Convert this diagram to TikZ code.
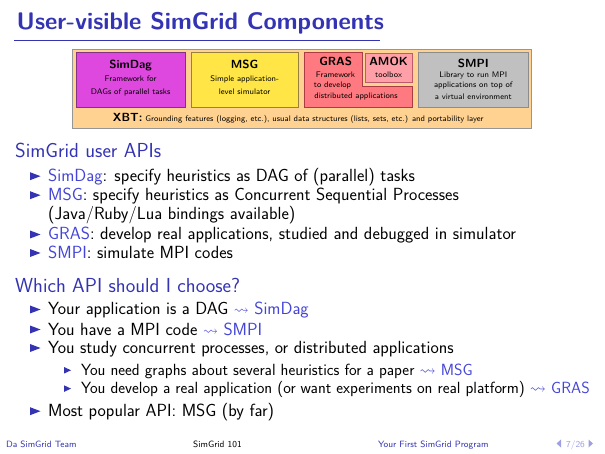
\documentclass[tikz,border=0pt]{standalone}
\usepackage{amssymb}
\usepackage{graphicx}
\renewcommand{\familydefault}{\sfdefault}
\definecolor{struct}{RGB}{51,51,179}
\definecolor{lnk}{RGB}{68,68,215}
\definecolor{xbtfill}{RGB}{255,210,145}
\definecolor{xbtdraw}{RGB}{150,150,150}
\definecolor{sdfill}{RGB}{222,72,222}
\definecolor{sddraw}{RGB}{130,50,130}
\definecolor{msgfill}{RGB}{255,230,70}
\definecolor{msgdraw}{RGB}{150,130,60}
\definecolor{grasfill}{RGB}{255,122,128}
\definecolor{grasdraw}{RGB}{170,60,70}
\definecolor{amokfill}{RGB}{255,160,168}
\definecolor{amokdraw}{RGB}{190,90,105}
\definecolor{smpifill}{RGB}{192,192,192}
\definecolor{smpidraw}{RGB}{140,140,140}
\definecolor{navcol}{RGB}{160,160,225}
\newcommand{\mainbul}[1]{\fill[struct] (30,#1-9.5) -- (40.5,#1-5.5) -- (30,#1-1.5) -- cycle;}
\newcommand{\subbul}[1]{\fill[struct] (64,#1-8) -- (71,#1-4.7) -- (64,#1-1.4) -- cycle;}
\newcommand{\myleads}{\resizebox{15pt}{!}{$\leadsto$}}
\tikzset{
  txt/.style={anchor=base west, inner sep=0pt, font=\fontsize{17.6}{20}\selectfont},
  subtxt/.style={anchor=base west, inner sep=0pt, font=\fontsize{16.2}{18}\selectfont},
  head/.style={anchor=base west, inner sep=0pt, text=struct, font=\fontsize{20.3}{22}\selectfont},
  btitle/.style={anchor=base, inner sep=0pt, font=\fontsize{11.8}{12}\selectfont\bfseries},
  btext/.style={anchor=base, inner sep=0pt, font=\fontsize{8.1}{9}\selectfont},
  foot/.style={anchor=base west, inner sep=0pt, font=\fontsize{9.1}{10}\selectfont},
  comp/.style={line width=0.6pt},
}
\begin{document}
\begin{tikzpicture}[x=1pt,y=-1pt]
\useasboundingbox (0,0) rectangle (605,454);
\fill[white] (0,0) rectangle (605,454);
% title
\node[anchor=base west, inner sep=0pt, text=struct, font=\fontsize{24}{26}\selectfont\bfseries] (title) at (16.5,30) {User-visible SimGrid Components};
\draw[struct, line width=0.8pt] (14,40) -- (380,40);
% component diagram
\filldraw[comp, fill=xbtfill, draw=xbtdraw] (72,49) rectangle (531,128);
\filldraw[comp, fill=sdfill, draw=sddraw] (76,52.7) rectangle (185.3,107.3);
\filldraw[comp, fill=msgfill, draw=msgdraw] (191,52.7) rectangle (298.3,107.3);
\filldraw[comp, fill=grasfill, draw=grasdraw] (304,52.7) -- (362.7,52.7) -- (362.7,86.7) -- (412.7,86.7) -- (412.7,107.3) -- (304,107.3) -- cycle;
\filldraw[comp, fill=amokfill, draw=amokdraw] (365.3,53.3) rectangle (412,82.3);
\filldraw[comp, fill=smpifill, draw=smpidraw] (418.7,52.7) rectangle (528,107.3);
\node[btitle] (sdT) at (130.6,68.5) {SimDag};
\node[btext] (sd1) at (130.6,81.7) {Framework for};
\node[btext] (sd2) at (130.6,94.3) {DAGs of parallel tasks};
\node[btitle] (msgT) at (244.6,68.5) {MSG};
\node[btext] (msg1) at (244.6,81.7) {Simple application-};
\node[btext] (msg2) at (244.6,94.3) {level simulator};
\node[btitle] (grasT) at (335.7,66) {GRAS};
\node[btext] (gras1) at (335.5,77.7) {Framework};
\node[btext] (gras2) at (332.5,87.7) {to develop};
\node[btext] (gras3) at (356,98.3) {distributed applications};
\node[btitle] (amokT) at (388.6,66) {AMOK};
\node[btext] (amok1) at (388.6,77.3) {toolbox};
\node[btitle] (smpiT) at (473.3,67.3) {SMPI};
\node[btext] (smpi1) at (473.3,77.3) {Library to run MPI};
\node[btext] (smpi2) at (473.3,88) {applications on top of};
\node[btext] (smpi3) at (473.3,99.3) {a virtual environment};
\node[anchor=base west, inner sep=0pt, font=\fontsize{8.1}{9}\selectfont] (xbt) at (112.7,121.7) {{\fontsize{11.8}{12}\selectfont\bfseries XBT:} Grounding features (logging, etc.), usual data structures (lists, sets, etc.) and portability layer};
% section 1
\node[head] (h1) at (15,157.3) {SimGrid user APIs};
\mainbul{181.7}
\node[txt] (i1) at (48,181.7) {\textcolor{lnk}{SimDag}: specify heuristics as DAG of (parallel) tasks};
\mainbul{200.7}
\node[txt] (i2) at (48,200.7) {\textcolor{lnk}{MSG}: specify heuristics as Concurrent Sequential Processes};
\node[txt] (i2b) at (48,220) {(Java/Ruby/Lua bindings available)};
\mainbul{240}
\node[txt] (i3) at (48,240) {\textcolor{lnk}{GRAS}: develop real applications, studied and debugged in simulator};
\mainbul{258.5}
\node[txt] (i4) at (48,258.5) {\textcolor{lnk}{SMPI}: simulate MPI codes};
% section 2
\node[head] (h2) at (15,292.3) {Which API should I choose?};
\mainbul{315}
\node[txt] (j1) at (48,315) {Your application is a DAG \textcolor{lnk}{\myleads{} SimDag}};
\mainbul{335}
\node[txt] (j2) at (48,335) {You have a MPI code \textcolor{lnk}{\myleads{} SMPI}};
\mainbul{353.5}
\node[txt] (j3) at (48,353.5) {You study concurrent processes, or distributed applications};
\subbul{375}
\node[subtxt] (k1) at (81,375) {You need graphs about several heuristics for a paper \textcolor{lnk}{$\leadsto$ MSG}};
\subbul{393.3}
\node[subtxt] (k2) at (81,393.3) {You develop a real application (or want experiments on real platform) \textcolor{lnk}{$\leadsto$ GRAS}};
\mainbul{416.7}
\node[txt] (j4) at (48,416.7) {Most popular API: MSG (by far)};
% footer
\node[foot, text=struct] (f1) at (5.8,447) {Da SimGrid Team};
\node[foot] (f2) at (193,447) {SimGrid 101};
\node[foot, text=struct] (f3) at (378,447) {Your First SimGrid Program};
\node[foot, text=navcol] (f4) at (566,447) {7/26};
\fill[navcol] (561,439.5) -- (556.5,443.5) -- (561,447.5) -- cycle;
\fill[navcol] (588.5,439.5) -- (593,443.5) -- (588.5,447.5) -- cycle;
\end{tikzpicture}
\end{document}
